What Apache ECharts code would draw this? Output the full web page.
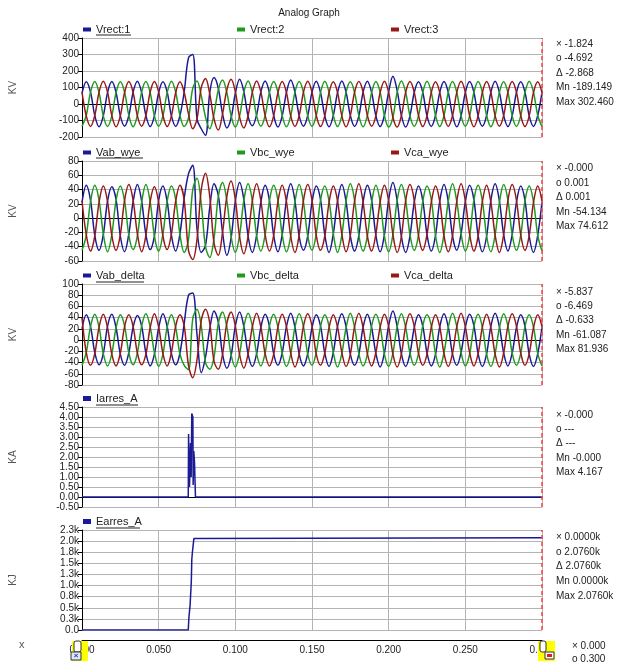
<!DOCTYPE html>
<html><head><meta charset="utf-8">
<script src="https://cdn.jsdelivr.net/npm/echarts@6/dist/echarts.min.js"></script>
<style>html,body{margin:0;padding:0;background:#fff}#c{width:618px;height:666px}</style>
</head><body><div id="c"></div>
<script>
// ---------- DATA ----------
const sampleStep = 1 / 360;          // s between samples of the voltage traces
const xMin = 0, xMax = 0.3, xInterval = 0.05;

const vrect1 = [65,135,72,-70,-138,-72, 70,136,70,-72,-135,-70, 72,138,70,-70,-137,-72, 70,135,72,-72,-136,-70,
  75,280,300,-90,-150,-189, 70,160,95,-60,-145,-85, 65,150,75,-75,-132,-65, 75,140,70,-70,-140,-72,
  70,145,72,-72,-135,-70, 72,138,70,-72,-138,-70, 70,140,72,-70,-136,-72, 72,138,70,-72,-137,-70,
  75,168,80,-70,-140,-72, 70,135,72,-72,-136,-70, 72,137,70,-70,-138,-72, 70,136,72,-72,-135,-70,
  72,138,70,-70,-137,-72, 70,135,72,-72,-136,-70, 72];
const vrect2 = [-135,-70,72,137,70,-72, -136,-72,70,135,72,-70, -138,-70,72,136,70,-72, -135,-72,70,138,72,-70,
  -137,-85,95,140,50,-80, -150,-60,85,145,70,-70, -140,-72,72,140,70,-72, -135,-70,70,137,72,-70,
  -138,-72,72,136,70,-72, -136,-70,70,138,72,-70, -137,-72,72,135,70,-72, -138,-70,70,137,72,-70,
  -140,-80,72,140,70,-72, -136,-72,70,138,72,-70, -137,-70,72,136,70,-72, -135,-72,70,137,72,-70,
  -138,-70,72,135,70,-72, -136,-72,70,138,72,-70, -137];
const vrect3 = [70,-72,-136,-70,72,138, 72,-70,-138,-72,70,136, 70,-72,-135,-70,72,137, 72,-70,-137,-72,70,135,
  70,-60,-150,-90,100,155, 60,-90,-158,-60,85,150, 75,-80,-145,-70,72,140, 72,-70,-138,-72,70,137,
  70,-72,-136,-70,72,138, 72,-70,-137,-72,70,135, 70,-72,-138,-70,72,136, 72,-70,-135,-72,70,138,
  70,-80,-140,-70,72,137, 72,-70,-137,-72,70,135, 70,-72,-136,-70,72,138, 72,-70,-138,-72,70,136,
  70,-72,-135,-70,72,137, 72,-70,-137,-72,70,135, 70];

const vabWye = [22,46,25,-24,-45,-23, 24,44,26,-25,-47,-22, 23,47,24,-23,-44,-25, 25,45,23,-24,-46,-22,
  28,62,74,-15,-48,-38, 15,48,32,-20,-52,-28, 24,50,26,-25,-48,-24, 23,46,25,-24,-47,-23,
  25,48,24,-26,-45,-25, 22,45,26,-23,-48,-22, 24,47,23,-25,-46,-24, 23,46,25,-24,-47,-23,
  26,50,24,-26,-48,-25, 22,45,25,-23,-46,-24, 24,47,23,-25,-45,-22, 23,46,26,-24,-47,-25,
  25,48,24,-23,-46,-23, 22,45,25,-25,-48,-24, 23];
const vbcWye = [-45,-24,23,46,25,-22, -47,-23,25,45,24,-24, -44,-25,22,47,23,-25, -46,-22,24,45,26,-23,
  -48,-30,40,56,20,-40, -55,-28,30,50,25,-25, -48,-24,25,48,24,-24, -46,-23,24,46,25,-23,
  -47,-25,23,47,22,-25, -45,-22,25,45,24,-22, -48,-24,24,48,25,-24, -46,-25,22,46,23,-25,
  -47,-23,25,47,24,-23, -45,-24,23,45,26,-24, -48,-22,24,48,23,-22, -46,-25,25,46,24,-25,
  -47,-23,22,47,25,-23, -45,-24,24,45,23,-24, -46];
const vcaWye = [24,-23,-46,-25,22,45, 23,-24,-45,-23,25,47, 25,-22,-47,-24,23,44, 22,-25,-44,-22,24,46,
  25,-45,-58,-30,40,63, 30,-35,-52,-20,30,52, 26,-26,-50,-25,24,48, 24,-23,-46,-24,23,46,
  23,-25,-48,-23,25,47, 25,-24,-45,-25,22,45, 24,-22,-47,-24,24,48, 22,-25,-46,-22,23,46,
  24,-23,-48,-25,25,47, 25,-24,-45,-23,22,45, 23,-25,-47,-24,24,48, 24,-22,-46,-25,23,46,
  22,-24,-48,-23,25,47, 25,-23,-45,-24,22,45, 24];

const vabDelta = [20,45,24,-22,-44,-24, 25,46,22,-25,-45,-22, 23,44,25,-23,-46,-25, 22,47,24,-24,-44,-23,
  30,80,84,10,-58,-30, 20,52,32,-25,-50,-28, 25,50,24,-25,-47,-24, 23,46,25,-24,-45,-23,
  24,48,23,-25,-46,-24, 22,45,25,-23,-47,-22, 25,47,24,-25,-45,-25, 23,46,22,-24,-48,-23,
  26,52,24,-25,-47,-24, 22,45,25,-23,-46,-25, 24,47,23,-25,-45,-22, 23,46,26,-24,-47,-24,
  25,48,24,-23,-46,-23, 22,45,25,-25,-47,-24, 23];
const vbcDelta = [-45,-22,24,46,23,-24, -46,-24,22,45,25,-23, -44,-23,25,47,24,-22, -47,-25,23,45,22,-25,
  -45,-53,38,55,25,-40, -52,-30,30,50,24,-26, -48,-24,24,48,25,-24, -46,-23,25,46,23,-23,
  -47,-25,23,47,24,-25, -45,-22,24,45,25,-22, -48,-24,22,48,23,-24, -46,-25,25,46,24,-25,
  -47,-23,24,47,22,-23, -45,-24,25,45,26,-24, -48,-22,23,48,24,-22, -46,-25,24,46,23,-25,
  -47,-23,22,47,25,-23, -45,-24,24,45,23,-24, -46];
const vcaDelta = [40,-22,-45,-24,23,46, 22,-25,-46,-23,24,45, 24,-23,-44,-25,22,47, 23,-24,-46,-22,25,45,
  25,-45,-67,-35,35,55, 30,-38,-52,-25,30,50, 25,-26,-50,-24,24,48, 23,-24,-46,-25,23,46,
  24,-23,-48,-24,25,47, 25,-25,-45,-23,22,45, 23,-22,-47,-25,24,48, 22,-24,-46,-22,23,46,
  24,-25,-48,-24,25,47, 25,-23,-45,-25,22,45, 23,-24,-47,-23,24,48, 24,-22,-46,-24,23,46,
  22,-25,-48,-23,25,47, 25,-23,-45,-24,22,45, 24];

const iarresTime = [0, 0.0693, 0.0695, 0.0701, 0.0708, 0.0712, 0.0716, 0.0723, 0.0725, 0.0729, 0.0734, 0.0736, 0.0740, 0.0746, 0.0750, 0.3];
const iarresVal  = [0, 0,      3.15,   0.5,    2.7,    1.0,    4.17,   4.0,    0.6,    2.3,    1.7,    1.7,    0,      0.05,   0,      0];

const earresTime = [0, 0.0693, 0.0697, 0.0700, 0.0705, 0.0709, 0.0713, 0.0716, 0.0720, 0.0725, 0.0730, 0.0734, 0.3];
const earresVal  = [0, 0,      270,    300,    560,    600,    1100,   1580,   1750,   1910,   2060,   2076,   2076];

const panelNames = [['Vrect:1','Vrect:2','Vrect:3'], ['Vab_wye','Vbc_wye','Vca_wye'], ['Vab_delta','Vbc_delta','Vca_delta'], ['Iarres_A'], ['Earres_A']];
const panelUnits = ['KV','KV','KV','KA','KJ'];
const yMin = [-200, -60, -80, -0.5, 0];
const yMax = [400, 80, 100, 4.5, 2250];
const yStep = [100, 20, 20, 0.5, 250];
const infoTexts = [
  ['× -1.824','o -4.692','Δ -2.868','Mn -189.149','Max 302.460'],
  ['× -0.000','o 0.001','Δ 0.001','Mn -54.134','Max 74.612'],
  ['× -5.837','o -6.469','Δ -0.633','Mn -61.087','Max 81.936'],
  ['× -0.000','o ---','Δ ---','Mn -0.000','Max 4.167'],
  ['× 0.0000k','o 2.0760k','Δ 2.0760k','Mn 0.0000k','Max 2.0760k']
];
const cursorTexts = ['× 0.000', 'o 0.300', 'Δ 0.300'];

// ---------- LAYOUT / STYLE ----------
const FONT = '"Liberation Sans", Arial, sans-serif';
const BLUE = '#1a1a94', GREEN = '#1f9a1f', RED = '#981818';
const colors = [BLUE, GREEN, RED];
const gridTop = [38, 161, 284, 407, 530];
const gridH = [99, 100, 101, 100, 100];
const legendX = [83, 237, 391];
const infoY = [[44,58,73,87,102],[168,183,197,212,226],[292,306,320,335,349],[415,429,443,458,472],[537,552,566,581,596]];
const underlines = [[96,131,35],[96,143,158],[96,144,282],[96,138,405],[96,140,528]];

const toPairs = (vals) => vals.map((v, i) => [i * sampleStep, v]);
const zipPairs = (ts, vs) => ts.map((t, i) => [t, vs[i]]);
const panelData = [
  [vrect1, vrect2, vrect3].map(toPairs),
  [vabWye, vbcWye, vcaWye].map(toPairs),
  [vabDelta, vbcDelta, vcaDelta].map(toPairs),
  [zipPairs(iarresTime, iarresVal)],
  [zipPairs(earresTime, earresVal)]
];

const grids = [], xAxes = [], yAxes = [], series = [], legends = [];
for (let p = 0; p < 5; p++) {
  grids.push({ left: 81, right: 76, top: gridTop[p], height: gridH[p] });
  const last = p === 4;
  xAxes.push({
    type: 'value', gridIndex: p, min: xMin, max: xMax, interval: xInterval,
    axisLine: last ? { show: true, onZero: false, lineStyle: { color: '#000', width: 1 } }
                   : { show: true, onZero: true, lineStyle: { color: '#000', width: 1 } },
    offset: last ? 10 : 0,
    axisTick: { show: false },
    axisLabel: { show: last, fontFamily: FONT, fontSize: 10, color: '#222', margin: 5,
                 formatter: v => v.toFixed(3) },
    splitLine: { show: true, lineStyle: { color: '#b4b4b4', width: 1 } }
  });
  yAxes.push({
    type: 'value', gridIndex: p, min: yMin[p], max: yMax[p], interval: yStep[p],
    name: panelUnits[p], nameLocation: 'middle', nameGap: 64, nameRotate: 90,
    nameTextStyle: { fontFamily: FONT, fontSize: 10, color: '#555' },
    axisLine: { show: true, lineStyle: { color: '#000', width: 1 } },
    axisTick: { show: true, length: 4, lineStyle: { color: '#000' } },
    axisLabel: { fontFamily: FONT, fontSize: 10, color: '#222', margin: 3,
      formatter: v => p === 3 ? v.toFixed(2) : p === 4 ? (v === 0 ? '0.0' : (v / 1000).toFixed(1) + 'k') : String(v) },
    splitLine: { show: true, lineStyle: { color: '#b4b4b4', width: 1 } }
  });
  panelNames[p].forEach((name, s) => {
    const ser = {
      name, type: 'line', xAxisIndex: p, yAxisIndex: p, data: panelData[p][s],
      showSymbol: false, smooth: p < 3 ? 0.35 : false, animation: false,
      lineStyle: { color: colors[s], width: 1.5 }, itemStyle: { color: colors[s] }, z: 3 + s
    };
    if (s === 0) ser.markLine = { silent: true, symbol: 'none', label: { show: false }, animation: false,
      lineStyle: { color: '#ff4040', type: [4, 3], width: 1.5 }, data: [{ xAxis: xMax }] };
    series.push(ser);
    legends.push({ data: [name], left: legendX[s], top: gridTop[p] - 14, padding: 0, itemGap: 0,
      icon: 'rect', itemWidth: 8, itemHeight: p >= 3 ? 5 : 4, selectedMode: false,
      textStyle: { fontFamily: FONT, fontSize: 11, color: '#222', padding: [0, 0, 0, 0] } });
  });
}

const graphics = [];
graphics.push({ type: 'text', left: 'center', top: 8, style: { text: 'Analog Graph', font: '10px ' + FONT, fill: '#222' } });
infoTexts.forEach((lines, p) => lines.forEach((t, i) => graphics.push({
  type: 'text', x: 556, y: infoY[p][i], style: { text: t, font: '10px ' + FONT, fill: '#222', textVerticalAlign: 'middle' } })));
underlines.forEach(u => graphics.push({ type: 'line', shape: { x1: u[0], y1: u[2], x2: u[1], y2: u[2] }, style: { stroke: '#222', lineWidth: 1 } }));
graphics.push({ type: 'text', x: 19, y: 645, style: { text: 'x', font: '11px ' + FONT, fill: '#555', textVerticalAlign: 'middle' } });
cursorTexts.forEach((t, i) => graphics.push({ type: 'text', x: 572, y: 646 + i * 13, style: { text: t, font: '10px ' + FONT, fill: '#222', textVerticalAlign: 'middle' } }));
// cursor markers
graphics.push({ type: 'rect', shape: { x: 72, y: 641, width: 16, height: 20 }, style: { fill: '#ffff00' }, z: 100 });
graphics.push({ type: 'rect', shape: { x: 74, y: 641, width: 7, height: 11, r: 2 }, style: { fill: '#fff', stroke: '#333', lineWidth: 1 }, z: 101 });
graphics.push({ type: 'rect', shape: { x: 71, y: 652, width: 10, height: 8 }, style: { fill: '#dfe6f5', stroke: '#333', lineWidth: 1 }, z: 101 });
graphics.push({ type: 'text', x: 76, y: 656, style: { text: '×', font: 'bold 8px ' + FONT, fill: '#2040c0', textAlign: 'center', textVerticalAlign: 'middle' }, z: 102 });
graphics.push({ type: 'rect', shape: { x: 538, y: 641, width: 17, height: 20 }, style: { fill: '#ffff00' }, z: 100 });
graphics.push({ type: 'rect', shape: { x: 540, y: 641, width: 6, height: 11, r: 2 }, style: { fill: '#fff', stroke: '#333', lineWidth: 1 }, z: 101 });
graphics.push({ type: 'rect', shape: { x: 545, y: 652, width: 9, height: 7 }, style: { fill: '#fff', stroke: '#333', lineWidth: 1 }, z: 101 });
graphics.push({ type: 'rect', shape: { x: 547, y: 654, width: 5, height: 3 }, style: { fill: '#e02020' }, z: 102 });

const chart = echarts.init(document.getElementById('c'), null, { renderer: 'canvas' });
chart.setOption({
  animation: false, backgroundColor: '#fff',
  grid: grids, xAxis: xAxes, yAxis: yAxes, series, legend: legends, graphic: graphics
});
</script></body></html>
